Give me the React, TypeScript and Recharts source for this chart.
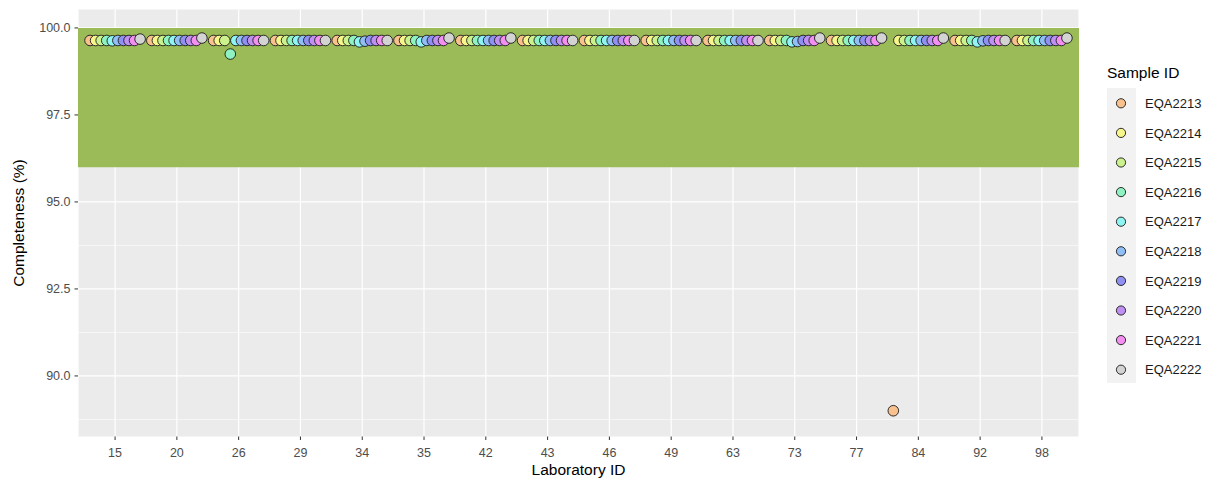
import React from 'react';
import {
  ScatterChart,
  Scatter,
  XAxis,
  YAxis,
  CartesianGrid,
  ReferenceArea,
  Legend,
} from 'recharts';

// Laboratories along the x axis
const labs = ['15', '20', '26', '29', '34', '35', '42', '43', '46', '49', '63', '73', '77', '84', '92', '98'];

// Sample series
const samples = ['EQA2213', 'EQA2214', 'EQA2215', 'EQA2216', 'EQA2217', 'EQA2218', 'EQA2219', 'EQA2220', 'EQA2221', 'EQA2222'];
const sampleColors = ['#F9C18E', '#F6F68B', '#CBF28D', '#8EF3C0', '#8EF5F3', '#90BFF5', '#8F90F2', '#BF90F2', '#F28FF0', '#D3D3D3'];

// Completeness (%) per sample, one value per laboratory in `labs` order
const eqa2213 = [99.64, 99.64, 99.64, 99.64, 99.64, 99.64, 99.64, 99.64, 99.64, 99.64, 99.64, 99.64, 99.64, 89.0, 99.64, 99.64];
const eqa2214 = [99.64, 99.64, 99.64, 99.64, 99.64, 99.64, 99.64, 99.64, 99.64, 99.64, 99.64, 99.64, 99.64, 99.64, 99.64, 99.64];
const eqa2215 = [99.64, 99.64, 99.64, 99.64, 99.64, 99.64, 99.64, 99.64, 99.64, 99.64, 99.64, 99.64, 99.64, 99.64, 99.64, 99.64];
const eqa2216 = [99.64, 99.64, 99.25, 99.64, 99.64, 99.64, 99.64, 99.64, 99.64, 99.64, 99.64, 99.64, 99.64, 99.64, 99.64, 99.64];
const eqa2217 = [99.63, 99.64, 99.64, 99.64, 99.6, 99.6, 99.64, 99.64, 99.64, 99.64, 99.64, 99.6, 99.64, 99.64, 99.6, 99.64];
const eqa2218 = [99.64, 99.64, 99.64, 99.64, 99.62, 99.64, 99.64, 99.64, 99.64, 99.64, 99.64, 99.61, 99.64, 99.64, 99.63, 99.64];
const eqa2219 = [99.64, 99.64, 99.64, 99.64, 99.64, 99.64, 99.64, 99.64, 99.64, 99.64, 99.64, 99.64, 99.64, 99.64, 99.64, 99.64];
const eqa2220 = [99.64, 99.64, 99.64, 99.64, 99.64, 99.64, 99.64, 99.64, 99.64, 99.64, 99.64, 99.64, 99.64, 99.64, 99.64, 99.64];
const eqa2221 = [99.64, 99.64, 99.64, 99.64, 99.64, 99.64, 99.64, 99.64, 99.64, 99.64, 99.64, 99.64, 99.64, 99.64, 99.64, 99.64];
const eqa2222 = [99.68, 99.71, 99.64, 99.64, 99.64, 99.71, 99.71, 99.64, 99.64, 99.64, 99.64, 99.71, 99.71, 99.71, 99.64, 99.71];

const seriesValues = [eqa2213, eqa2214, eqa2215, eqa2216, eqa2217, eqa2218, eqa2219, eqa2220, eqa2221, eqa2222];

// Axis ticks
const xTicks = labs.map((_, j) => j + 1);
const yMajorTicks = [90, 92.5, 95, 97.5, 100];
const yMinorTicks = [88.75, 91.25, 93.75, 96.25, 98.75];

// Acceptance band
const bandLow = 96;
const bandHigh = 100;

const FONT = '"Liberation Sans", Arial, Helvetica, sans-serif';
const DODGE = 0.9;

const seriesData = samples.map((_, i) =>
  labs.map((lab, j) => ({
    x: j + 1 + (i - (samples.length - 1) / 2) * (DODGE / samples.length),
    y: seriesValues[i][j],
    lab,
  }))
);

const makeDot = (fill: string) => (props: any) => {
  const { cx, cy } = props;
  if (cx == null || cy == null) return <g />;
  return <circle cx={cx} cy={cy} r={5.3} fill={fill} stroke="#1a1a1a" strokeWidth={0.9} />;
};

const SampleLegend = () => (
  <svg width={110} height={335} style={{ display: 'block' }}>
    <text x={7} y={22.5} fontFamily={FONT} fontSize={15.5} fill="#000">
      Sample ID
    </text>
    <rect x={7} y={33} width={29} height={295} fill="#F2F2F2" />
    {samples.map((s, i) => {
      const cy = 48.3 + i * 29.6;
      return (
        <g key={s}>
          <circle cx={21} cy={cy} r={4.6} fill={sampleColors[i]} stroke="#1a1a1a" strokeWidth={0.9} />
          <text x={45} y={cy + 4.6} fontFamily={FONT} fontSize={13} fill="#1a1a1a">
            {s}
          </text>
        </g>
      );
    })}
  </svg>
);

const XTitle = (props: any) => {
  const vb = props.viewBox || {};
  const cx = (vb.x ?? 0) + (vb.width ?? 0) / 2;
  return (
    <text x={cx} y={474.5} textAnchor="middle" fontFamily={FONT} fontSize={15.5} fill="#000">
      Laboratory ID
    </text>
  );
};

const YTitle = (props: any) => {
  const vb = props.viewBox || {};
  const cy = (vb.y ?? 0) + (vb.height ?? 0) / 2;
  return (
    <text
      transform={`translate(23.5, ${cy}) rotate(-90)`}
      x={0}
      y={0}
      textAnchor="middle"
      fontFamily={FONT}
      fontSize={15.5}
      fill="#000"
    >
      Completeness (%)
    </text>
  );
};

export default function App() {
  return (
    <div style={{ position: 'absolute', left: 0, top: 0, width: 1211, height: 479, background: '#fff' }}>
      <ScatterChart
        width={1211}
        height={479}
        margin={{ top: 9.5, right: 132, bottom: 0, left: 0 }}
        style={{ fontFamily: FONT }}
      >
        <CartesianGrid
          fill="#EBEBEB"
          stroke="#FFFFFF"
          strokeWidth={0.6}
          vertical={false}
          horizontalValues={yMinorTicks}
        />
        <CartesianGrid stroke="#FFFFFF" strokeWidth={1.2} horizontalValues={yMajorTicks} />
        <XAxis
          type="number"
          dataKey="x"
          domain={[0.4, 16.6]}
          ticks={xTicks}
          interval={0}
          allowDataOverflow
          height={42.5}
          axisLine={false}
          tickSize={3.5}
          tickMargin={8}
          tickLine={{ stroke: '#333333' }}
          tick={{ fill: '#4D4D4D', fontSize: 12.5, fontFamily: FONT }}
          tickFormatter={(v: number) => labs[Math.round(v) - 1] ?? ''}
          label={<XTitle />}
        />
        <YAxis
          type="number"
          dataKey="y"
          domain={[88.26, 100.53]}
          ticks={yMajorTicks}
          interval={0}
          allowDataOverflow
          width={78}
          axisLine={false}
          tickSize={3.5}
          tickMargin={4}
          tickLine={{ stroke: '#333333' }}
          tick={{ fill: '#4D4D4D', fontSize: 12.5, fontFamily: FONT }}
          tickFormatter={(v: number) => v.toFixed(1)}
          label={<YTitle />}
        />
        <ReferenceArea y1={bandLow} y2={bandHigh} fill="#9BBB59" fillOpacity={1} stroke="none" />
        {samples.map((s, i) => (
          <Scatter
            key={s}
            name={s}
            data={seriesData[i]}
            fill={sampleColors[i]}
            shape={makeDot(sampleColors[i])}
            isAnimationActive={false}
          />
        ))}
        <Legend
          layout="vertical"
          align="center"
          verticalAlign="middle"
          content={() => <SampleLegend />}
          wrapperStyle={{ position: 'absolute', left: 1100, top: 55, width: 110, height: 335 }}
        />
      </ScatterChart>
    </div>
  );
}
